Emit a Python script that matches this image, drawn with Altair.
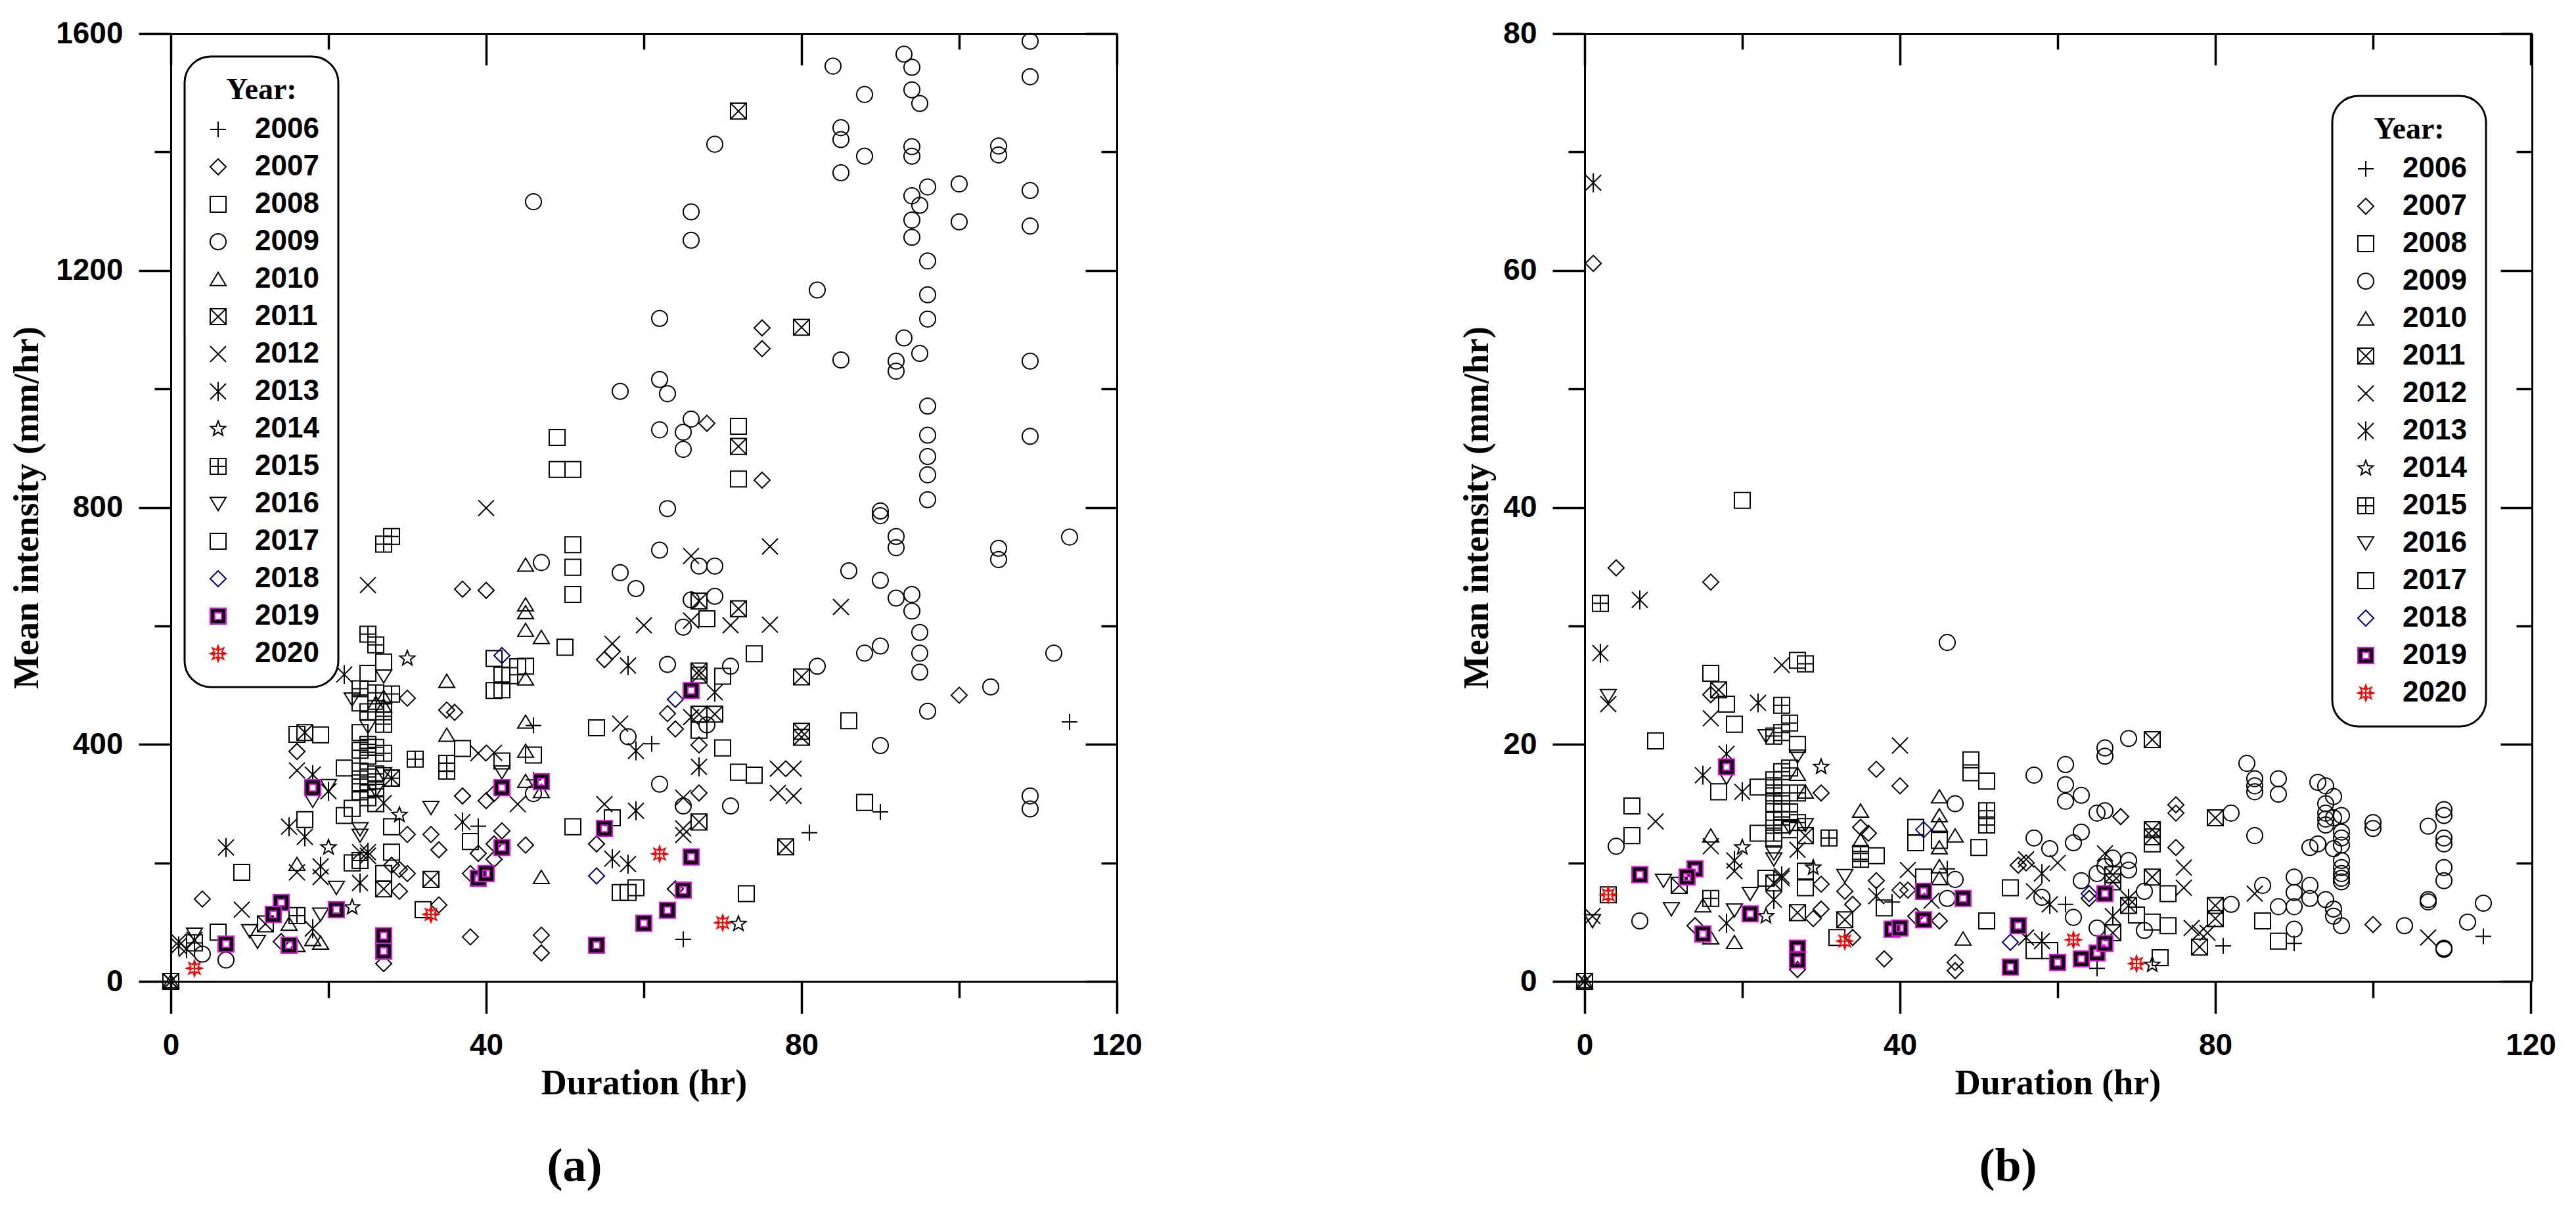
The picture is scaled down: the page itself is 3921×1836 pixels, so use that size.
import altair as alt
import pandas as pd

YEARS = [str(y) for y in range(2006, 2021)]

# ---------------- Panel (a): Duration (hr) vs Mean intensity ----------------
A2006 = [(0, 0), (39, 262), (46, 432), (46, 340), (61, 401), (65, 71), (81, 251), (90, 286), (114, 438)]
A2007 = [(16, 541), (30, 478), (35, 458), (36, 454), (16, 388), (37, 313), (40, 305), (41, 317), (30, 248),
         (33, 248), (34, 222), (39, 216), (41, 232), (41, 206), (28, 196), (29, 189), (30, 182), (29, 152),
         (38, 182), (4, 139), (14, 67), (27, 30), (34, 129), (38, 75), (56, 557), (55, 543), (63, 452),
         (64, 426), (67, 399), (67, 318), (54, 232), (45, 230), (42, 254), (64, 156), (47, 78), (47, 48),
         (75, 1103), (75, 1068), (68, 942), (75, 846), (100, 483), (37, 662), (40, 660)]
A2008 = [(16, 417), (19, 416), (37, 393), (22, 360), (17, 273), (38, 236), (23, 200), (27, 182), (9, 184),
         (6, 83), (32, 121), (20, 812), (49, 918), (49, 864), (51, 864), (45, 532), (42, 492), (43, 516),
         (41, 545), (44, 531), (42, 517), (50, 564), (70, 515), (68, 612), (67, 424), (70, 394), (42, 372),
         (46, 382), (51, 261), (72, 937), (72, 848), (88, 302), (24, 420), (25, 380), (26, 300)]
A2009 = [(4, 46), (7, 36), (63, 798), (62, 728), (67, 701), (69, 701), (47, 707), (57, 690), (59, 663),
         (66, 644), (69, 650), (65, 598), (63, 535), (71, 532), (82, 532), (68, 433), (58, 413), (46, 317),
         (62, 333), (65, 296), (71, 296), (84, 1545), (93, 1565), (94, 1543), (94, 1505), (95, 1482),
         (88, 1497), (85, 1441), (85, 1421), (69, 1413), (88, 1393), (94, 1409), (94, 1393), (85, 1365),
         (96, 1341), (100, 1346), (94, 1326), (95, 1310), (94, 1285), (100, 1282), (94, 1256), (66, 1299),
         (66, 1251), (96, 1216), (82, 1167), (96, 1159), (96, 1118), (93, 1086), (95, 1060), (92, 1047),
         (92, 1030), (85, 1049), (62, 1119), (63, 992), (66, 949), (65, 927), (65, 898), (62, 931),
         (62, 1016), (90, 794), (96, 971), (96, 922), (96, 886), (96, 855), (96, 813), (90, 786), (92, 751),
         (92, 732), (86, 693), (90, 677), (92, 647), (94, 653), (94, 625), (95, 589), (95, 554), (95, 522),
         (90, 566), (88, 554), (96, 456), (90, 398), (46, 1316), (57, 996), (105, 1410), (105, 1395),
         (109, 1587), (109, 1527), (109, 1335), (109, 1275), (109, 1047), (109, 920), (114, 750),
         (105, 731), (105, 712), (112, 554), (104, 497), (109, 313), (109, 291)]
A2010 = [(0, 0), (35, 507), (27, 465), (35, 416), (16, 198), (15, 97), (18, 71), (19, 65), (16, 61),
         (45, 703), (45, 636), (45, 623), (45, 593), (47, 581), (45, 511), (45, 438), (45, 389), (45, 338),
         (47, 321), (47, 176), (27, 480), (26, 470)]
A2011 = [(0, 0), (17, 420), (28, 343), (12, 97), (33, 172), (27, 156), (67, 642), (72, 629), (67, 524),
         (67, 517), (80, 514), (67, 451), (69, 451), (80, 422), (80, 412), (67, 269), (78, 227), (72, 1469),
         (80, 1104), (72, 903)]
A2012 = [(16, 356), (41, 386), (24, 218), (16, 184), (19, 176), (9, 121), (1, 67), (25, 669), (40, 799),
         (66, 718), (76, 734), (60, 601), (66, 609), (71, 601), (76, 602), (56, 570), (66, 446), (57, 435),
         (39, 385), (44, 299), (65, 310), (55, 299), (65, 258), (65, 247), (77, 359), (79, 359), (77, 318),
         (79, 313), (85, 632), (3, 70)]
A2013 = [(0, 0), (22, 518), (18, 349), (20, 321), (27, 301), (37, 269), (15, 261), (17, 244), (7, 226),
         (25, 218), (19, 194), (24, 166), (18, 89), (2, 55), (58, 533), (69, 488), (59, 389), (67, 362),
         (59, 288), (56, 207), (58, 198), (1, 60), (25, 212)]
A2014 = [(30, 545), (29, 281), (20, 226), (23, 125), (72, 97)]
A2015 = [(0, 0), (25, 586), (26, 568), (24, 494), (26, 487), (28, 485), (25, 455), (27, 455), (27, 434),
         (31, 375), (35, 368), (35, 355), (16, 111), (24, 204), (27, 738), (28, 751), (24, 390), (25, 400),
         (26, 395), (27, 385), (24, 355), (25, 345), (26, 350), (28, 343), (24, 320), (25, 310), (26, 325),
         (3, 65)]
A2016 = [(27, 515), (23, 476), (18, 305), (20, 330), (26, 322), (33, 293), (24, 257), (24, 246), (21, 158),
         (10, 85), (11, 67), (19, 113), (3, 79), (42, 353), (27, 350), (25, 430)]
A2017 = [(27, 539), (25, 520), (24, 470), (25, 395), (24, 335), (23, 292), (22, 280), (28, 261), (28, 218),
         (51, 737), (51, 699), (51, 653), (54, 428), (72, 353), (74, 348), (56, 276), (57, 150), (58, 150),
         (59, 158), (73, 148), (74, 553), (86, 440), (41, 491)]
A2018 = [(42, 550), (64, 476), (54, 178)]
A2019 = [(18, 327), (14, 133), (13, 113), (21, 121), (15, 61), (7, 63), (27, 77), (27, 51), (39, 174),
         (40, 182), (66, 491), (42, 327), (47, 337), (55, 258), (42, 226), (66, 210), (65, 154), (63, 120),
         (60, 98), (54, 61)]
A2020 = [(3, 22), (33, 113), (62, 215), (70, 99)]

# ---------------- Panel (b) ----------------
B2006 = [(0, 0), (39, 6.7), (46, 9.5), (61, 6.5), (65, 1.1), (81, 3.0), (90, 3.2), (114, 3.8)]
B2007 = [(1.1, 60.6), (4, 34.9), (16, 33.7), (16, 24.2), (30, 15.9), (37, 17.9), (40, 16.5), (35, 13),
         (36, 12.5), (30, 8.2), (37, 8.5), (33, 7.6), (34, 6.5), (29, 5.3), (30, 6.1), (14, 4.7), (27, 1.0),
         (34, 3.7), (38, 1.9), (75, 14.9), (75, 14.2), (75, 11.3), (68, 13.9), (40, 7.7), (41, 7.7),
         (45, 5.1), (47, 1.6), (47, 0.9), (55, 9.8), (56, 10), (64, 7), (100, 4.8), (42, 5.5)]
B2008 = [(20, 40.6), (16, 26), (18, 23.4), (19, 21.7), (9, 20.3), (17, 16), (22, 16.4), (6, 14.8),
         (6, 12.3), (22, 12.5), (24, 12.1), (37, 10.6), (28, 9.3), (23, 8.7), (3, 7.3), (38, 6.2), (32, 3.7),
         (49, 18.7), (49, 17.6), (42, 13), (42, 11.7), (45, 11.9), (43, 8.8), (51, 5.1), (57, 2.6),
         (59, 2.6), (72, 11.6), (70, 5.6), (73, 2), (88, 3.4)]
B2009 = [(46, 28.6), (47, 15), (57, 17.4), (61, 18.3), (61, 16.6), (61, 15.2), (63, 15.7), (66, 19.7),
         (66, 19), (69, 20.5), (65, 14.2), (66, 14.4), (57, 12.1), (59, 11.2), (62, 11.7), (63, 12.6),
         (47, 8.6), (46, 7), (58, 7.1), (63, 8.5), (67, 10.4), (69, 10.2), (69, 9.4), (65, 9.1), (66, 9.7),
         (71, 7.6), (71, 4.3), (65, 4.5), (62, 5.4), (4, 11.4), (7, 5.1), (84, 18.4), (85, 17.1),
         (85, 16.5), (85, 16), (88, 17.1), (88, 15.8), (93, 16.8), (94, 16.5), (95, 15.6), (94, 15),
         (94, 14.2), (94, 13.7), (94, 13.2), (95, 13.8), (96, 14), (96, 12.6), (96, 12.1), (96, 11.5),
         (95, 11.2), (93, 11.6), (92, 11.3), (96, 10.2), (96, 9.6), (96, 9.1), (96, 8.7), (96, 8.4),
         (100, 13.4), (100, 12.9), (107, 13.1), (109, 14.5), (109, 14), (109, 12.1), (109, 11.6),
         (109, 9.6), (109, 8.5), (107, 6.9), (107, 6.7), (114, 6.6), (112, 5), (109, 2.8), (109, 2.7),
         (104, 4.7), (82, 6.5), (82, 14.2), (85, 12.3), (86, 8.1), (90, 8.8), (90, 7.5), (90, 6.3),
         (88, 6.3), (92, 8.1), (92, 7), (94, 6.9), (95, 6.1), (95, 5.5), (96, 4.7), (90, 4.4)]
B2010 = [(0, 0), (35, 14.4), (35, 11.9), (16, 12.3), (15, 6.4), (16, 3.7), (19, 3.3), (45, 15.6), (45, 14),
         (45, 13.2), (47, 12.3), (45, 11.3), (45, 9.7), (45, 8.7), (48, 3.6), (27, 17.5), (28, 16)]
B2011 = [(0, 0), (17, 24.6), (28, 12.3), (12, 8.1), (27, 5.8), (33, 5.2), (72, 20.4), (72, 12.8),
         (72, 12.2), (80, 13.8), (67, 9), (67, 8.4), (72, 8.8), (69, 6.4), (80, 6.4), (80, 5.3), (78, 2.9),
         (67, 4.1), (24, 8.3)]
B2012 = [(3, 23.4), (16, 22.2), (25, 26.7), (9, 13.5), (16, 11.4), (19, 9.3), (25, 8.7), (40, 19.9),
         (41, 9.4), (56, 10.3), (60, 10), (57, 7.6), (66, 10.8), (76, 9.6), (76, 7.9), (77, 4.5), (78, 4.1),
         (79, 4.1), (85, 7.4), (107, 3.7), (44, 6.8), (1, 5.5)]
B2013 = [(0, 0), (1.1, 67.4), (2, 27.7), (7, 32.2), (22, 23.5), (18, 19.2), (15, 17.4), (20, 16),
         (27, 11.1), (19, 10.2), (24, 6.9), (18, 4.9), (37, 7.2), (58, 9.1), (59, 6.5), (56, 3.7),
         (58, 3.4), (69, 7), (67, 5.5), (25, 8.9)]
B2014 = [(30, 18.1), (20, 11.3), (29, 9.6), (23, 5.5), (72, 1.4)]
B2015 = [(0, 0), (2, 31.9), (28, 26.8), (25, 23.3), (26, 21.8), (24, 20.7), (25, 21), (35, 10.3),
         (35, 10.8), (31, 12.1), (16, 7), (51, 14.4), (51, 13.2), (24, 17), (25, 17.7), (26, 18),
         (24, 15.9), (25, 15.9), (27, 15.9), (24, 15), (25, 15), (26, 14.3), (24, 13.6), (27, 13.4),
         (25, 13.2), (24, 12.5)]
B2016 = [(3, 24.1), (23, 20.7), (27, 19), (18, 17.2), (28, 13.2), (24, 10.8), (24, 10.3), (33, 8.9),
         (10, 8.5), (21, 7.4), (19, 6), (11, 6.1), (1, 5.1), (26, 13)]
B2017 = [(27, 27.1), (27, 20), (51, 16.9), (50, 11.3), (54, 7.9), (28, 7.9), (74, 7.4), (72, 5), (74, 4.7),
         (86, 5.1), (24, 16.5), (25, 14.3), (26, 12.8)]
B2018 = [(43, 12.8), (64, 7.4), (54, 3.3)]
B2019 = [(18, 18.1), (7, 9), (14, 9.5), (13, 8.8), (21, 5.7), (15, 4), (27, 2.8), (27, 1.8), (39, 4.4),
         (40, 4.5), (43, 7.6), (48, 7), (43, 5.2), (55, 4.7), (54, 1.2), (60, 1.6), (63, 1.9), (65, 2.4),
         (66, 3.2), (66, 7.4)]
B2020 = [(3, 7.3), (33, 3.4), (62, 3.5), (70, 1.5)]

PANEL_A = [A2006, A2007, A2008, A2009, A2010, A2011, A2012, A2013, A2014, A2015, A2016, A2017, A2018, A2019, A2020]
PANEL_B = [B2006, B2007, B2008, B2009, B2010, B2011, B2012, B2013, B2014, B2015, B2016, B2017, B2018, B2019, B2020]

X_MAJOR = [0, 40, 80, 120]
X_MINOR = [20, 60, 100]
YA_MAJOR = [0, 400, 800, 1200, 1600]
YA_MINOR = [200, 600, 1000, 1400]
YB_MAJOR = [0, 20, 40, 60, 80]
YB_MINOR = [10, 30, 50, 70]

# ---------------- symbol styling ----------------
P_PLUS = "M-1,0L1,0M0,-1L0,1"
P_DIAMOND = "M-1,0L0,-1L1,0L0,1Z"
P_SQUARE = "M-1,-1L1,-1L1,1L-1,1Z"
P_CIRCLE = "M1,0A1,1,0,1,1,-1,0A1,1,0,1,1,1,0Z"
P_TRI_UP = "M0,-0.85L1,0.8L-1,0.8Z"
P_BOXX = "M-1,-1L1,-1L1,1L-1,1ZM-1,-1L1,1M1,-1L-1,1"
P_X = "M-1,-1L1,1M-1,1L1,-1"
P_AST = "M-1,-1L1,1M-1,1L1,-1M0,-1.2L0,1.2"
P_STAR = ("M0,-1L0.247,-0.34L0.951,-0.309L0.399,0.13L0.588,0.809L0,0.42L-0.588,0.809"
          "L-0.399,0.13L-0.951,-0.309L-0.247,-0.34Z")
P_GRID = "M-1,-1L1,-1L1,1L-1,1ZM-1,0L1,0M0,-1L0,1"
P_TRI_DN = "M-1,-0.8L1,-0.8L0,0.85Z"
P_RING = "M-1,-1L1,-1L1,1L-1,1ZM-0.42,-0.42L-0.42,0.42L0.42,0.42L0.42,-0.42Z"
P_BURST = ("M1,0L0.462,0.191L0.707,0.707L0.191,0.462L0,1L-0.191,0.462L-0.707,0.707L-0.462,0.191"
           "L-1,0L-0.462,-0.191L-0.707,-0.707L-0.191,-0.462L0,-1L0.191,-0.462L0.707,-0.707L0.462,-0.191Z"
           "M-1,0L1,0M0,-1L0,1")

SHAPES = [P_PLUS, P_DIAMOND, P_SQUARE, P_CIRCLE, P_TRI_UP, P_BOXX, P_X, P_AST, P_STAR, P_GRID,
          P_TRI_DN, P_SQUARE, P_DIAMOND, P_RING, P_BURST]
STROKES = ["#000000"] * 12 + ["#000080", "#FF00FF", "#FF0000"]
FILLS = ["transparent"] * 13 + ["#000000", "transparent"]

SANS = "Liberation Sans"
SERIF = "Liberation Serif"

# layout (pixels): both panels share one view; each panel gets its own pixel range
W, H = 3594, 1443
PANEL_W = 1440
B_LEFT = 2152


def to_frame(series):
    rows = []
    for yr, pts in zip(YEARS, series):
        for d, v in pts:
            rows.append({"Year": yr, "Duration": d, "Intensity": v})
    return pd.DataFrame(rows)


def bare_axis(orient, values, size, offset, domain=False, ticks=True, **kw):
    return alt.Axis(orient=orient, values=values, tickSize=size, offset=offset, labels=False,
                    domain=domain, domainWidth=3, domainColor="black", ticks=ticks, grid=False,
                    tickWidth=3.5, tickColor="black", **kw)


def panel(series, ymax, ymaj, ymin, x_left, left_off, right_off, lx, ly, caption, cap_x, ytp):
    df = to_frame(series)

    def xs():
        return alt.Scale(domain=[0, 120], range=[x_left, x_left + PANEL_W], nice=False, zero=False)

    def ys():
        return alt.Scale(domain=[0, ymax], nice=False, zero=False)

    legend = alt.Legend(
        title="Year:", orient="none", legendX=lx, legendY=ly, direction="vertical",
        titleFont=SERIF, titleFontSize=46, titleFontWeight="bold", titleColor="black",
        titleAnchor="middle", titlePadding=14,
        labelFont=SANS, labelFontSize=44, labelFontWeight="bold", labelColor="black",
        labelOffset=34, symbolSize=580, symbolStrokeWidth=2, rowPadding=13,
        padding=29, strokeColor="black", fillColor="white", cornerRadius=40,
    )
    pts = alt.Chart(df).mark_point(filled=True, opacity=1, strokeWidth=2, size=580).encode(
        x=alt.X("Duration:Q", scale=xs(), axis=alt.Axis(
            orient="bottom", values=X_MAJOR, tickSize=49, tickWidth=3.5, tickColor="black",
            domain=True, domainWidth=3, domainColor="black", grid=False, format="d",
            labelFont=SANS, labelFontSize=46, labelFontWeight="bold", labelColor="black",
            labelPadding=26, labelFlush=False, labelOverlap=False,
            title="Duration (hr)", titleFont=SERIF, titleFontSize=54, titleFontWeight="bold",
            titleColor="black", titlePadding=8)),
        y=alt.Y("Intensity:Q", scale=ys(), axis=alt.Axis(
            orient="left", values=ymaj, tickSize=49, tickWidth=3.5, tickColor="black", offset=left_off,
            domain=True, domainWidth=3, domainColor="black", grid=False, format="d",
            labelFont=SANS, labelFontSize=46, labelFontWeight="bold", labelColor="black",
            labelPadding=24, labelFlush=False, labelOverlap=False,
            title="Mean intensity (mm/hr)", titleFont=SERIF, titleFontSize=54, titleFontWeight="bold",
            titleColor="black", titlePadding=ytp)),
        shape=alt.Shape("Year:N", scale=alt.Scale(domain=YEARS, range=SHAPES), legend=legend),
        stroke=alt.Stroke("Year:N", scale=alt.Scale(domain=YEARS, range=STROKES), legend=legend),
        fill=alt.Fill("Year:N", scale=alt.Scale(domain=YEARS, range=FILLS), legend=legend),
    )

    def ghost(xaxis, yaxis):
        return alt.Chart(df).mark_point(opacity=0).encode(
            x=alt.X("Duration:Q", scale=xs(), axis=xaxis),
            y=alt.Y("Intensity:Q", scale=ys(), axis=yaxis))

    layers = [
        pts,
        # outward minor ticks (bottom / left) and the panel caption
        ghost(bare_axis("bottom", X_MINOR, 25, 0, title=caption, titleFont=SERIF, titleFontSize=72,
                        titleFontWeight="bold", titleColor="black", titleX=cap_x, titleY=281,
                        titleAlign="center", titleBaseline="middle", titleAngle=0),
              bare_axis("left", ymin, 25, left_off, title=None)),
        # top / right frame lines
        ghost(bare_axis("top", X_MAJOR, 0, 0, domain=True, ticks=False, title=None),
              bare_axis("right", ymaj, 0, right_off, domain=True, ticks=False, title=None)),
        # inward major ticks on top / right
        ghost(bare_axis("top", X_MAJOR, 48, -48, title=None),
              bare_axis("right", ymaj, 48, right_off - 48, title=None)),
        # inward minor ticks on top / right
        ghost(bare_axis("top", X_MINOR, 24, -24, title=None),
              bare_axis("right", ymin, 24, right_off - 24, title=None)),
    ]
    return layers


layers_a = panel(PANEL_A, 1600, YA_MAJOR, YA_MINOR, 0, 0, PANEL_W - W, 21, 35, "(a)", 614, 16)
layers_b = panel(PANEL_B, 80, YB_MAJOR, YB_MINOR, B_LEFT, -B_LEFT, 0, B_LEFT + 1138, 95, "(b)", 2796, 12)

chart = alt.layer(*layers_a, *layers_b).resolve_scale(
    x="independent", y="independent", shape="independent", fill="independent", stroke="independent"
).resolve_axis(
    x="independent", y="independent"
).resolve_legend(
    shape="independent", fill="independent", stroke="independent"
).properties(
    width=W, height=H,
    padding={"left": 6, "top": 20, "right": 5, "bottom": 5}, background="white"
).configure_view(strokeWidth=0).configure_legend(strokeWidth=3)

chart.save("out.html", embed_options={"renderer": "svg", "actions": False})
